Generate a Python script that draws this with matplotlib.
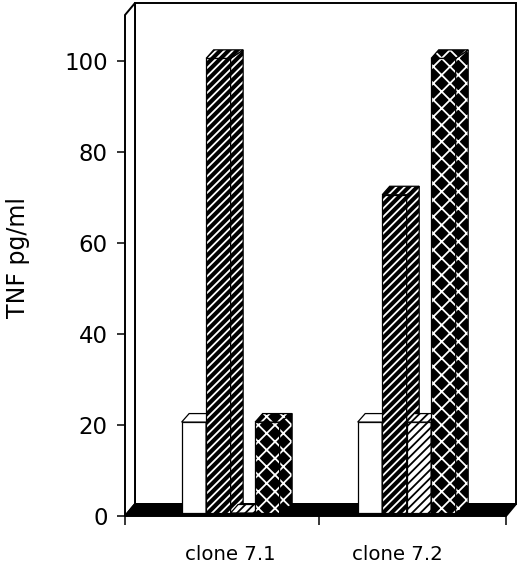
import matplotlib
matplotlib.use("Agg")
import matplotlib.pyplot as plt
from matplotlib.patches import Polygon

# ── data ─────────────────────────────────────────────────────────────────────
clones = ["clone 7.1", "clone 7.2"]
tnf_open = [20, 20]        # white bars
tnf_dense = [100, 70]      # dark, dense diagonal hatch
tnf_light = [0, 20]        # white with diagonal hatch
tnf_checker = [20, 100]    # dark checker pattern

# ── styles ───────────────────────────────────────────────────────────────────
STYLES = [
    dict(bg="white", fg=None, hatch=None),
    dict(bg="black", fg="white", hatch="////"),
    dict(bg="white", fg="black", hatch="////"),
    dict(bg="black", fg="white", hatch="xx"),
]
plt.rcParams["font.family"] = "DejaVu Sans"
plt.rcParams["hatch.linewidth"] = 1.3

PX_X = 1 / 176.1     # data units per pixel, x
PX_Y = 1 / 4.545     # data units per pixel, y
BAR_W = 24.5 * PX_X
SIDE_DX = 12.5 * PX_X
LEFT_DX = 7.5 * PX_X
BAR_DY = 8.5 * PX_Y
BASE = 3 * PX_Y
WALL_DX = 10 * PX_X
WALL_DY = 12 * PX_Y
XL, XR = -0.6, 1.564
YMAX = 110.2


def face(ax, pts, style, z):
    ax.add_patch(Polygon(pts, closed=True, facecolor=style["bg"],
                         edgecolor="none", zorder=z, clip_on=False))
    if style["hatch"]:
        ax.add_patch(Polygon(pts, closed=True, facecolor="none",
                             edgecolor=style["fg"], hatch=style["hatch"],
                             linewidth=0, zorder=z + 0.01, clip_on=False))
    ax.add_patch(Polygon(pts, closed=True, facecolor="none", edgecolor="black",
                         linewidth=0.9, zorder=z + 0.02, clip_on=False))


def bar3d(ax, x0, h, style, z):
    x1 = x0 + BAR_W
    top = h + BASE
    face(ax, [(x0, BASE), (x1, BASE), (x1, top), (x0, top)], style, z)
    face(ax, [(x1, BASE), (x1, top), (x1 + SIDE_DX, top + BAR_DY),
              (x1 + SIDE_DX, BASE + BAR_DY)], style, z + 0.1)
    face(ax, [(x0, top), (x1, top), (x1 + SIDE_DX, top + BAR_DY),
              (x0 + LEFT_DX, top + BAR_DY)], style, z + 0.2)


fig = plt.figure(figsize=(5.2, 5.64), dpi=100)
ax = fig.add_axes([125 / 520, 48 / 564, 381 / 520, 501 / 564])
ax.set_xlim(XL, XR)
ax.set_ylim(0, YMAX)
ax.patch.set_visible(False)
for s in ax.spines.values():
    s.set_visible(False)

# walls and floor
wall_kw = dict(closed=True, clip_on=False, linewidth=1.4)
ax.add_patch(Polygon([(XL + WALL_DX, WALL_DY), (XR + WALL_DX, WALL_DY),
                      (XR + WALL_DX, YMAX + WALL_DY), (XL + WALL_DX, YMAX + WALL_DY)],
                     facecolor="white", edgecolor="black", zorder=1, **wall_kw))
ax.add_patch(Polygon([(XL, 0), (XL, YMAX), (XL + WALL_DX, YMAX + WALL_DY),
                      (XL + WALL_DX, WALL_DY)],
                     facecolor="white", edgecolor="black", zorder=1.5, **wall_kw))
ax.add_patch(Polygon([(XL, 0), (XR, 0), (XR + WALL_DX, WALL_DY), (XL + WALL_DX, WALL_DY)],
                     facecolor="black", edgecolor="black", zorder=2, **wall_kw))

# bars
series = [tnf_open, tnf_dense, tnf_light, tnf_checker]
z = 3
for g in range(len(clones)):
    for i, vals in enumerate(series):
        x0 = g + (i - 2) * BAR_W
        bar3d(ax, x0, vals[g], STYLES[i], z)
        z += 1

# axes decoration
ax.set_yticks(range(0, 101, 20))
ax.tick_params(axis="y", direction="out", length=6, width=1.1, pad=6.5,
               labelsize=16.5)
ax.set_xticks([XL, 0.5, XR])
ax.set_xticklabels([])
ax.tick_params(axis="x", direction="out", length=6.5, width=1.1)

label_shift = [0.0, -0.055]
for g, name in enumerate(clones):
    ax.text(g + label_shift[g], -44 * PX_Y, name, ha="center", va="baseline",
            fontsize=14.2)

fig.text(18 / 520, 1 - 258 / 564, "TNF pg/ml", rotation=90, ha="center",
         va="center", fontsize=17)

fig.savefig("out.png", dpi=100)
